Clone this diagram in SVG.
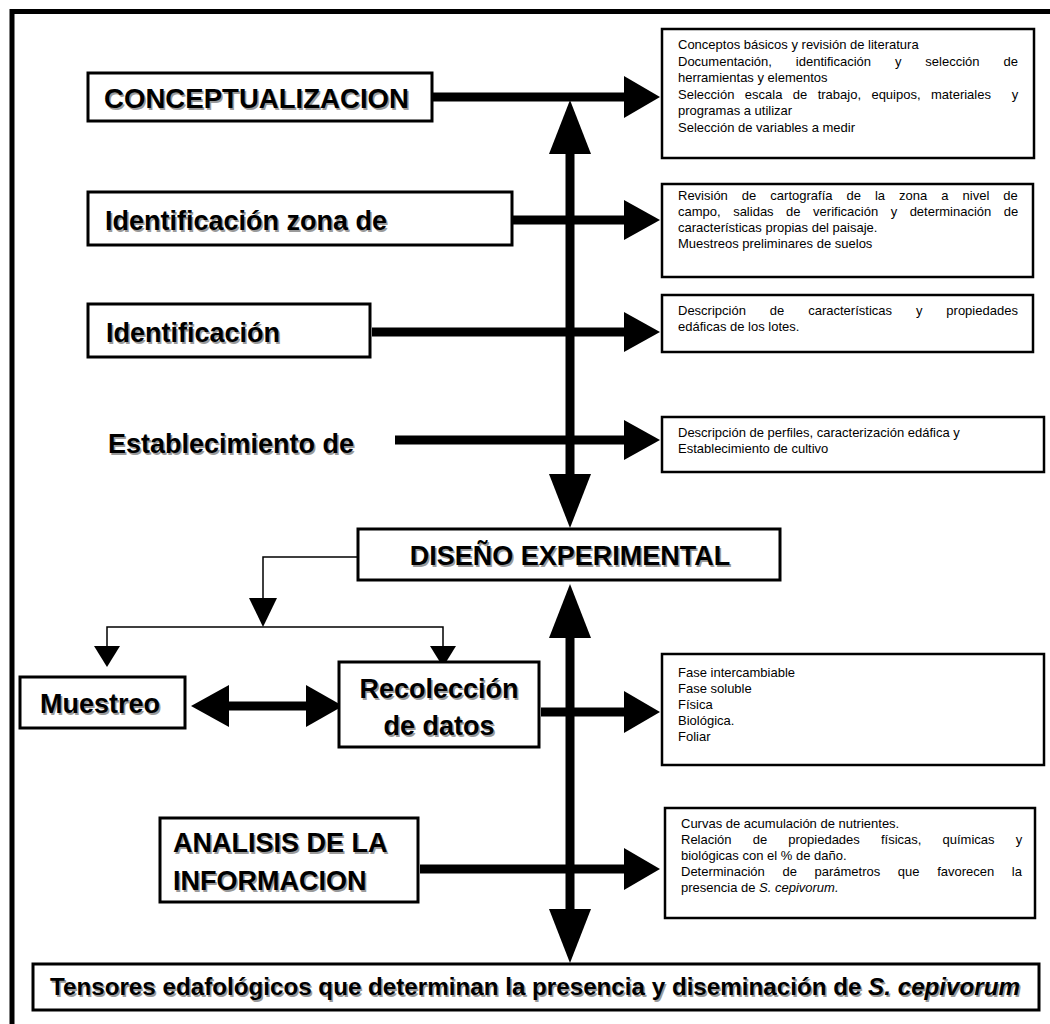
<svg xmlns="http://www.w3.org/2000/svg" width="1050" height="1024" viewBox="0 0 1050 1024">
<style>
.box{fill:#fff;stroke:#000;stroke-width:3}
.rbox{fill:#fff;stroke:#000;stroke-width:2.5}
.h{font-family:"Liberation Sans",Arial,sans-serif;font-weight:bold;font-size:27px;fill:#000}
.hs{font-family:"Liberation Sans",Arial,sans-serif;font-weight:bold;font-size:27px;fill:#9a9a9a}
.t{font-family:"Liberation Sans",Arial,sans-serif;font-size:13px;fill:#000}
.thick{stroke:#000;stroke-width:9;fill:none}
.thin{stroke:#000;stroke-width:1.5;fill:none}
.head{fill:#000}
</style>
<rect width="1050" height="1024" fill="#fff"/>
<path d="M12 1024 V11.5 H1050" fill="none" stroke="#000" stroke-width="5"/>

<g id="connectors">
  <!-- main vertical upper -->
  <line class="thick" x1="570" y1="150" x2="570" y2="480"/>
  <polygon class="head" points="570,100 549,154 591,154"/>
  <polygon class="head" points="570,528 549,474 591,474"/>
  <!-- main vertical lower -->
  <line class="thick" x1="570" y1="635" x2="570" y2="915"/>
  <polygon class="head" points="570,584 549,638 591,638"/>
  <polygon class="head" points="570,963 549,909 591,909"/>
  <!-- horizontal arrows to right boxes -->
  <line class="thick" x1="432" y1="97" x2="626" y2="97"/>
  <polygon class="head" points="660,97 624,76 624,118"/>
  <line class="thick" x1="512" y1="220" x2="626" y2="220"/>
  <polygon class="head" points="660,220 624,200 624,240"/>
  <line class="thick" x1="372" y1="332" x2="626" y2="332"/>
  <polygon class="head" points="660,332 624,312 624,352"/>
  <line class="thick" x1="395" y1="440" x2="626" y2="440"/>
  <polygon class="head" points="660,440 624,420 624,460"/>
  <line class="thick" x1="541" y1="712" x2="626" y2="712"/>
  <polygon class="head" points="660,712 624,691 624,733"/>
  <line class="thick" x1="420" y1="869" x2="626" y2="869"/>
  <polygon class="head" points="660,869 624,848 624,890"/>
  <!-- thin branching from DISEÑO -->
  <polyline class="thin" points="358,557 263,557 263,600"/>
  <polygon class="head" points="263,627 249,598 277,598"/>
  <polyline class="thin" points="107,650 107,627 443,627 443,650"/>
  <polygon class="head" points="107,667 94,646 120,646"/>
  <polygon class="head" points="443,667 430,646 456,646"/>
  <!-- double arrow Muestreo <-> Recoleccion -->
  <line class="thick" x1="225" y1="706" x2="312" y2="706"/>
  <polygon class="head" points="191,706 229,685 229,727"/>
  <polygon class="head" points="343,706 306,685 306,727"/>
</g>

<g id="conceptualizacion">
  <rect class="box" x="88" y="73" width="344" height="48"/>
  <text class="hs" x="105.5" y="109.5" textLength="305" lengthAdjust="spacingAndGlyphs">CONCEPTUALIZACION</text>
  <text class="h" x="104" y="108" textLength="305" lengthAdjust="spacingAndGlyphs">CONCEPTUALIZACION</text>
</g>
<g id="box-conceptos">
  <rect class="rbox" x="662" y="29" width="372" height="129"/>
  <text class="t" x="678" y="49">Conceptos básicos y revisión de literatura</text>
  <text class="t" x="678" y="65.5" word-spacing="20.3">Documentación, identificación y selección de</text>
  <text class="t" x="678" y="82">herramientas y elementos</text>
  <text class="t" x="678" y="98.5" word-spacing="6.8" xml:space="preserve">Selección escala de trabajo, equipos, materiales  y</text>
  <text class="t" x="678" y="115">programas a utilizar</text>
  <text class="t" x="678" y="131.5">Selección de variables a medir</text>
</g>

<g id="identificacion-zona">
  <rect class="box" x="88" y="192" width="424" height="53"/>
  <text class="hs" x="106.5" y="231.5">Identificación zona de</text>
  <text class="h" x="105" y="230">Identificación zona de</text>
</g>
<g id="box-revision">
  <rect class="rbox" x="662" y="184" width="371" height="93"/>
  <text class="t" x="678" y="200" word-spacing="10.4">Revisión de cartografía de la zona a nivel de</text>
  <text class="t" x="678" y="216" word-spacing="8.9">campo, salidas de verificación y determinación de</text>
  <text class="t" x="678" y="232">características propias del paisaje.</text>
  <text class="t" x="678" y="248">Muestreos preliminares de suelos</text>
</g>

<g id="identificacion">
  <rect class="box" x="88" y="304" width="282" height="53"/>
  <text class="hs" x="107.5" y="343.5">Identificación</text>
  <text class="h" x="106" y="342">Identificación</text>
</g>
<g id="box-descripcion">
  <rect class="rbox" x="662" y="295" width="371" height="57"/>
  <text class="t" x="678" y="315" word-spacing="20.3">Descripción de características y propiedades</text>
  <text class="t" x="678" y="331">edáficas de los lotes.</text>
</g>

<g id="establecimiento">
  <text class="hs" x="109.5" y="454.5">Establecimiento de</text>
  <text class="h" x="108" y="453">Establecimiento de</text>
</g>
<g id="box-perfiles">
  <rect class="rbox" x="662" y="417" width="382" height="55"/>
  <text class="t" x="678" y="437">Descripción de perfiles, caracterización edáfica y</text>
  <text class="t" x="678" y="453">Establecimiento de cultivo</text>
</g>

<g id="diseno">
  <rect class="box" x="358" y="529" width="422" height="51"/>
  <text class="hs" x="571.5" y="566.5" text-anchor="middle">DISEÑO EXPERIMENTAL</text>
  <text class="h" x="570" y="565" text-anchor="middle">DISEÑO EXPERIMENTAL</text>
</g>

<g id="muestreo">
  <rect class="box" x="20" y="677" width="165" height="51"/>
  <text class="hs" x="101.5" y="714.5" text-anchor="middle">Muestreo</text>
  <text class="h" x="100" y="713" text-anchor="middle">Muestreo</text>
</g>

<g id="recoleccion">
  <rect class="box" x="339" y="662" width="200" height="85"/>
  <text class="hs" x="440.5" y="699.5" text-anchor="middle">Recolección</text>
  <text class="h" x="439" y="698" text-anchor="middle">Recolección</text>
  <text class="hs" x="440.5" y="736.5" text-anchor="middle">de datos</text>
  <text class="h" x="439" y="735" text-anchor="middle">de datos</text>
</g>
<g id="box-fases">
  <rect class="rbox" x="662" y="654" width="382" height="111"/>
  <text class="t" x="678" y="677">Fase intercambiable</text>
  <text class="t" x="678" y="693">Fase soluble</text>
  <text class="t" x="678" y="709">Física</text>
  <text class="t" x="678" y="725">Biológica.</text>
  <text class="t" x="678" y="741">Foliar</text>
</g>

<g id="analisis">
  <rect class="box" x="160" y="818" width="258" height="84"/>
  <text class="hs" x="174.5" y="853.5">ANALISIS DE LA</text>
  <text class="h" x="173" y="852">ANALISIS DE LA</text>
  <text class="hs" x="174.5" y="891.5">INFORMACION</text>
  <text class="h" x="173" y="890">INFORMACION</text>
</g>
<g id="box-curvas">
  <rect class="rbox" x="665" y="808" width="370" height="110"/>
  <text class="t" x="681" y="828">Curvas de acumulación de nutrientes.</text>
  <text class="t" x="681" y="844" word-spacing="17.5">Relación de propiedades físicas, químicas y</text>
  <text class="t" x="681" y="860">biológicas con el % de daño.</text>
  <text class="t" x="681" y="876" word-spacing="14">Determinación de parámetros que favorecen la</text>
  <text class="t" x="681" y="892">presencia de <tspan font-style="italic">S. cepivorum.</tspan></text>
</g>

<g id="tensores">
  <rect class="box" x="33" y="964" width="1006" height="46"/>
  <text class="hs" x="51.5" y="996.5" style="font-size:23px" textLength="970" lengthAdjust="spacingAndGlyphs">Tensores edafológicos que determinan la presencia y diseminación de <tspan font-style="italic">S. cepivorum</tspan></text>
  <text class="h" x="50" y="995" style="font-size:23px" textLength="970" lengthAdjust="spacingAndGlyphs">Tensores edafológicos que determinan la presencia y diseminación de <tspan font-style="italic">S. cepivorum</tspan></text>
</g>
</svg>
